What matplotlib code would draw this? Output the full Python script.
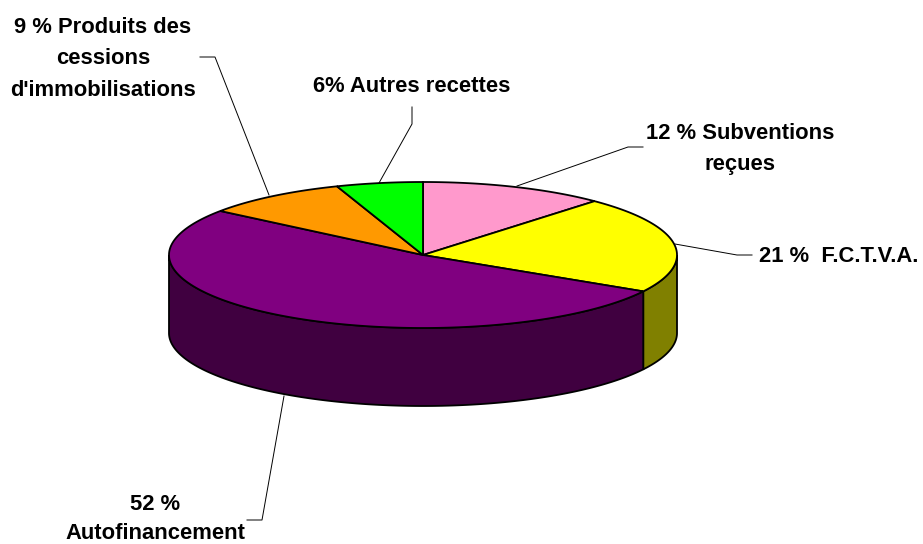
#!/usr/bin/env python3
import numpy as np
import matplotlib
matplotlib.use("Agg")
import matplotlib.pyplot as plt
from matplotlib.patches import Polygon

valeurs = [11.8, 21.5, 52.0, 9.2, 5.5]
couleurs = ["#FF99CC", "#FFFF00", "#800080", "#FF9900", "#00FF00"]
couleurs_cote = ["#805066", "#808000", "#400040", "#804D00", "#008000"]
etiquettes = ["12 % Subventions\nreçues", "21 %  F.C.T.V.A.", "52 %\nAutofinancement",
              "9 % Produits des\ncessions\nd'immobilisations", "6% Autres recettes"]

# geometrie du camembert (pixels)
cx, cy = 423, 255
rx, ry = 254, 73
epaisseur = 78


def point(t):
    return cx + rx * np.sin(t), cy - ry * np.cos(t)


fig = plt.figure(figsize=(9.23, 5.44), dpi=100)
ax = fig.add_axes([0, 0, 1, 1])
ax.set_xlim(0, 923)
ax.set_ylim(544, 0)
ax.axis("off")

bornes = np.radians(np.concatenate([[0], np.cumsum(valeurs)]) * 3.6)

# les cotes visibles d'abord (bas de l'ellipse seulement)
for i in range(len(valeurs)):
    a = max(bornes[i], np.pi / 2)
    b = min(bornes[i + 1], 3 * np.pi / 2)
    if a >= b:
        continue
    t = np.linspace(a, b, 200)
    x, y = point(t)
    pts = np.concatenate([np.column_stack([x, y]),
                          np.column_stack([x, y + epaisseur])[::-1]])
    ax.add_patch(Polygon(pts, closed=True, facecolor=couleurs_cote[i],
                         edgecolor="black", linewidth=1.3))

# le dessus
for i in range(len(valeurs)):
    t = np.linspace(bornes[i], bornes[i + 1], 200)
    x, y = point(t)
    pts = np.concatenate([[[cx, cy]], np.column_stack([x, y])])
    ax.add_patch(Polygon(pts, closed=True, facecolor=couleurs[i],
                         edgecolor="black", linewidth=1.3))

# traits de rappel
rappels = [
    [(517, 186), (628, 147), (643, 147)],
    [(675, 244), (737, 255), (752, 255)],
    [(284, 396), (262, 520), (247, 520)],
    [(269, 195), (215, 57), (200, 57)],
    [(379, 183), (412, 124), (412, 107)],
]
for r in rappels:
    xs, ys = zip(*r)
    ax.plot(xs, ys, color="black", linewidth=0.7)

# 52 % un peu plus serre pour rester dans l'image
pos_texte = [(740, 149), (838.5, 257), (155, 519), (103, 59), (412, 87)]
interlignes = [1.68, 1.68, 1.55, 1.68, 1.68]
for txt, (x, y), inter in zip(etiquettes, pos_texte, interlignes):
    ax.text(x, y, txt, ha="center", va="center", fontsize=15.8, fontweight="bold",
            family="Liberation Sans", linespacing=inter)

fig.savefig("out.png", dpi=100, facecolor="white")
